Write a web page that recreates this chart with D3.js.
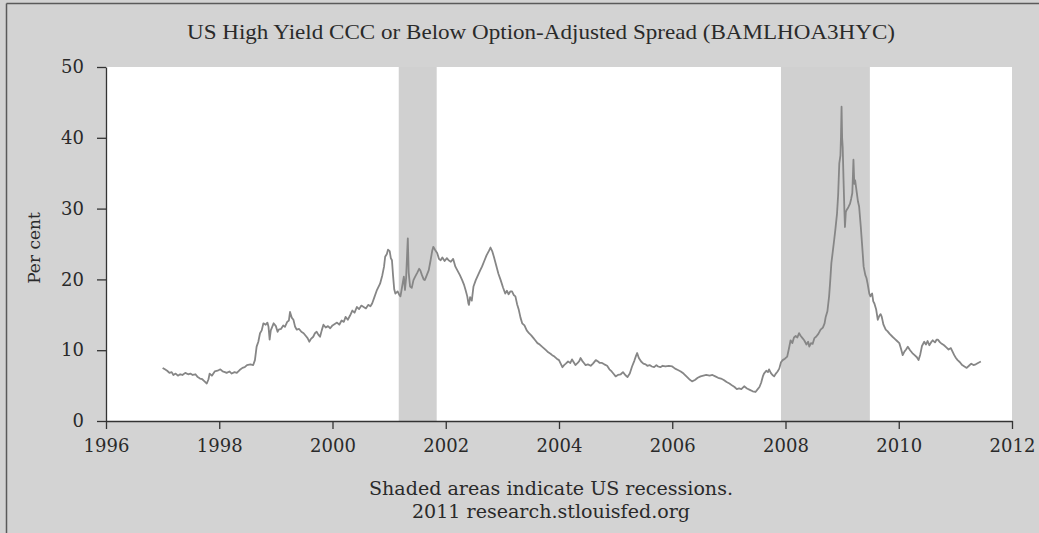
<!DOCTYPE html>
<html>
<head>
<meta charset="utf-8">
<script src="https://cdn.jsdelivr.net/npm/d3@7"></script>
<style>
  html, body { margin: 0; padding: 0; background: #d3d3d3; }
  svg { display: block; }
</style>
</head>
<body>
<svg id="chart" width="1039" height="533"></svg>
<script>
// ---- Data ----
const title = "US High Yield CCC or Below Option-Adjusted Spread (BAMLHOA3HYC)";
const yLabel = "Per cent";
const notes = ["Shaded areas indicate US recessions.", "2011 research.stlouisfed.org"];
const xTicks = [1996, 1998, 2000, 2002, 2004, 2006, 2008, 2010, 2012];
const yTicks = [0, 10, 20, 30, 40, 50];
const recessionStart = [2001.17, 2007.92];
const recessionEnd = [2001.84, 2009.49];

const years = [
1997.00,1997.04,1997.08,1997.12,1997.16,1997.19,1997.23,1997.27,1997.31,1997.35,1997.40,1997.45,1997.49,1997.53,1997.58,1997.62,1997.66,1997.70,1997.74,1997.78,1997.81,1997.83,1997.87,1997.92,1997.97,
1998.02,1998.06,1998.10,1998.13,1998.18,1998.22,1998.27,1998.31,1998.36,1998.41,1998.45,1998.49,1998.55,1998.60,1998.63,1998.66,1998.69,1998.72,1998.75,1998.78,1998.82,1998.85,1998.87,1998.89,1998.91,1998.93,1998.96,
1999.00,1999.03,1999.05,1999.09,1999.13,1999.16,1999.20,1999.23,1999.25,1999.28,1999.31,1999.34,1999.37,1999.41,1999.45,1999.49,1999.53,1999.56,1999.59,1999.62,1999.66,1999.69,1999.72,1999.75,1999.78,1999.81,1999.84,1999.88,1999.92,1999.96,
2000.00,2000.04,2000.08,2000.12,2000.16,2000.20,2000.23,2000.27,2000.31,2000.35,2000.39,2000.43,2000.47,2000.51,2000.55,2000.59,2000.63,2000.67,2000.70,2000.74,2000.78,2000.81,2000.84,2000.88,2000.91,2000.93,2000.96,2000.98,
2001.01,2001.03,2001.05,2001.07,2001.09,2001.11,2001.15,2001.18,2001.20,2001.23,2001.26,2001.28,2001.30,2001.32,2001.33,2001.345,2001.37,2001.40,2001.43,2001.46,2001.50,2001.53,2001.55,2001.58,2001.61,2001.63,2001.66,2001.70,2001.73,2001.76,2001.78,2001.81,2001.85,2001.88,2001.91,2001.94,2001.98,
2002.02,2002.05,2002.09,2002.13,2002.17,2002.21,2002.25,2002.29,2002.32,2002.35,2002.38,2002.40,2002.41,2002.43,2002.46,2002.49,2002.53,2002.57,2002.61,2002.64,2002.68,2002.72,2002.76,2002.79,2002.82,2002.85,2002.89,2002.93,2002.97,
2003.01,2003.05,2003.08,2003.11,2003.14,2003.17,2003.20,2003.23,2003.26,2003.29,2003.32,2003.35,2003.39,2003.43,2003.47,2003.51,2003.55,2003.58,2003.62,2003.66,2003.70,2003.73,2003.77,2003.81,2003.85,2003.88,2003.92,2003.96,
2004.00,2004.03,2004.06,2004.09,2004.12,2004.16,2004.20,2004.23,2004.26,2004.29,2004.33,2004.36,2004.38,2004.41,2004.44,2004.47,2004.51,2004.56,2004.60,2004.65,2004.69,2004.72,2004.76,2004.80,2004.85,2004.89,2004.93,2004.97,
2005.00,2005.04,2005.09,2005.13,2005.17,2005.21,2005.25,2005.29,2005.33,2005.36,2005.38,2005.41,2005.45,2005.49,2005.53,2005.56,2005.60,2005.64,2005.68,2005.72,2005.75,2005.79,2005.83,2005.88,2005.94,
2006.00,2006.05,2006.10,2006.15,2006.20,2006.25,2006.30,2006.35,2006.40,2006.45,2006.50,2006.55,2006.60,2006.66,2006.71,2006.76,2006.81,2006.86,2006.91,2006.96,
2007.01,2007.06,2007.10,2007.14,2007.18,2007.22,2007.27,2007.32,2007.37,2007.42,2007.47,2007.51,2007.54,2007.57,2007.60,2007.62,2007.66,2007.69,2007.71,2007.74,2007.77,2007.80,2007.83,2007.86,2007.89,2007.92,2007.95,2007.99,
2008.03,2008.06,2008.09,2008.12,2008.15,2008.18,2008.21,2008.24,2008.27,2008.30,2008.33,2008.37,2008.40,2008.42,2008.45,2008.48,2008.51,2008.54,2008.58,2008.62,2008.66,2008.69,2008.71,2008.74,2008.77,2008.79,2008.81,2008.83,2008.86,2008.88,2008.91,2008.93,2008.95,2008.97,2008.98,2008.99,
2009.00,2009.01,2009.025,2009.04,2009.05,2009.065,2009.08,2009.11,2009.14,2009.16,2009.18,2009.19,2009.20,2009.215,2009.23,2009.26,2009.28,2009.30,2009.33,2009.35,2009.38,2009.41,2009.43,2009.45,2009.48,2009.50,2009.53,2009.55,2009.57,2009.60,2009.63,2009.66,2009.68,2009.70,2009.73,2009.77,2009.80,2009.84,2009.89,2009.93,2009.97,
2010.01,2010.04,2010.07,2010.10,2010.13,2010.16,2010.20,2010.24,2010.28,2010.32,2010.35,2010.38,2010.41,2010.45,2010.48,2010.51,2010.54,2010.57,2010.60,2010.64,2010.67,2010.69,2010.73,2010.76,2010.80,2010.84,2010.88,2010.92,2010.95,2010.98,
2011.01,2011.04,2011.08,2011.12,2011.16,2011.20,2011.24,2011.28,2011.32,2011.36,2011.40,2011.45
];

const spread = [
7.5,7.3,7.1,6.8,6.9,6.5,6.7,6.4,6.6,6.5,6.8,6.6,6.7,6.5,6.6,6.2,6.0,5.9,5.6,5.3,5.9,6.7,6.4,7.0,7.1,
7.3,7.0,6.9,6.8,7.0,6.7,6.9,6.8,7.2,7.5,7.6,7.9,8.0,7.9,8.6,10.5,11.2,12.4,12.8,13.8,13.6,13.9,13.3,11.5,12.8,13.2,13.8,
13.4,12.6,12.9,13.0,13.5,13.3,14.0,14.2,15.4,14.6,14.3,13.3,12.9,13.0,12.6,12.4,12.0,11.7,11.2,11.6,11.9,12.4,12.6,12.2,11.9,12.8,13.6,13.2,13.4,13.1,
13.5,13.7,13.9,13.6,14.2,14.0,14.7,14.3,14.9,15.6,15.3,16.1,15.8,16.3,16.1,15.9,16.4,16.2,16.6,17.5,18.4,18.9,19.4,20.6,21.8,23.2,23.6,24.2,
24.0,23.0,22.7,20.5,18.6,18.0,18.3,17.8,17.6,19.0,20.4,18.5,20.2,24.0,25.8,21.0,19.0,18.8,19.9,20.4,21.0,21.5,21.3,20.6,20.0,19.9,20.5,21.3,22.6,24.0,24.6,24.2,23.7,22.9,22.7,23.1,22.6,
23.0,22.7,22.5,22.9,21.8,21.2,20.6,19.9,19.3,18.5,17.6,16.6,16.4,17.5,17.0,19.0,19.9,20.6,21.3,21.8,22.6,23.4,24.0,24.5,24.0,23.2,22.0,20.8,19.9,
18.9,18.0,18.4,17.9,18.3,18.3,17.8,17.6,16.5,15.7,14.6,13.8,13.5,12.8,12.4,12.1,11.7,11.4,11.0,10.8,10.5,10.3,10.0,9.7,9.5,9.3,9.1,8.8,
8.6,8.1,7.6,7.9,8.1,8.4,8.2,8.7,8.3,7.9,8.2,8.5,8.9,8.5,8.2,7.9,8.0,7.8,8.1,8.6,8.4,8.2,8.2,8.0,7.8,7.3,7.0,6.6,
6.3,6.5,6.6,6.9,6.5,6.2,6.7,7.7,8.5,9.2,9.6,8.9,8.4,8.1,8.0,7.8,7.9,7.7,7.6,7.9,7.7,7.6,7.8,7.7,7.8,
7.7,7.4,7.2,7.0,6.7,6.3,5.9,5.6,5.8,6.1,6.3,6.4,6.5,6.4,6.5,6.3,6.1,6.0,5.8,5.5,
5.3,5.0,4.8,4.5,4.6,4.5,4.9,4.6,4.4,4.2,4.1,4.5,4.8,5.4,6.3,6.7,7.1,6.9,7.3,6.8,6.5,6.3,6.7,7.0,7.4,8.3,8.6,8.8,
9.1,10.2,11.4,11.0,11.8,12.0,11.8,12.4,12.0,11.7,11.4,10.8,11.2,10.5,11.0,10.9,11.7,11.9,12.3,12.9,13.2,13.8,14.7,15.5,17.6,19.8,22.3,23.6,25.6,27.0,29.3,32.0,36.4,37.5,40.2,44.4,
40.0,38.7,34.0,29.8,27.4,29.5,29.8,30.2,30.7,31.4,32.2,34.5,36.9,33.5,34.0,32.2,31.0,30.3,27.4,25.2,21.8,20.6,20.2,19.4,18.0,17.6,18.0,16.9,16.6,15.8,14.3,14.9,15.1,14.7,13.6,12.9,12.7,12.3,11.9,11.6,11.3,
11.0,10.2,9.3,9.8,10.1,10.5,10.0,9.6,9.3,9.0,8.6,9.4,10.6,11.2,10.8,11.3,10.7,11.1,11.4,11.1,11.5,11.5,11.1,10.9,10.7,10.4,10.1,10.3,9.8,9.3,
8.9,8.6,8.3,7.9,7.7,7.5,7.8,8.1,7.9,8.0,8.2,8.4
];

// ---- Layout ----
const W = 1039, H = 533;
const plot = { left: 106, right: 1012, top: 67, bottom: 421 };
const colors = { bg: "#d3d3d3", plot: "#ffffff", recession: "#d0d0d0", line: "#868686", axis: "#333333", text: "#2a2a2a", border: "#5a5a5a" };

const svg = d3.select("#chart");

svg.append("rect").attr("x", 0).attr("y", 0).attr("width", W).attr("height", H).attr("fill", colors.bg);
// frame lines (top, left)
svg.append("line").attr("x1", 6.5).attr("x2", W).attr("y1", 3.5).attr("y2", 3.5).attr("stroke", colors.border).attr("stroke-width", 1.5);
svg.append("line").attr("x1", 6.5).attr("x2", 6.5).attr("y1", 3.5).attr("y2", H).attr("stroke", colors.border).attr("stroke-width", 1.5);

const x = d3.scaleLinear().domain([1996, 2012]).range([plot.left, plot.right]);
const y = d3.scaleLinear().domain([0, 50]).range([plot.bottom, plot.top]);

// plot background
svg.append("rect").attr("x", plot.left).attr("y", plot.top)
  .attr("width", plot.right - plot.left).attr("height", plot.bottom - plot.top)
  .attr("fill", colors.plot);

// recessions
svg.append("g").selectAll("rect").data(recessionStart).join("rect")
  .attr("x", (d) => x(d))
  .attr("width", (d, i) => x(recessionEnd[i]) - x(d))
  .attr("y", plot.top).attr("height", plot.bottom - plot.top)
  .attr("fill", colors.recession);

// line
const data = years.map((t, i) => [t, spread[i]]);
svg.append("path").datum(data)
  .attr("fill", "none").attr("stroke", colors.line).attr("stroke-width", 1.8)
  .attr("stroke-linejoin", "round")
  .attr("d", d3.line().x((d) => x(d[0])).y((d) => y(d[1])));

// axes
const fontTick = "'DejaVu Serif', serif";
const xAxis = svg.append("g").attr("transform", `translate(0,${plot.bottom})`)
  .call(d3.axisBottom(x).tickValues(xTicks).tickFormat(d3.format("d")).tickSize(8).tickSizeOuter(0).tickPadding(10));
const yAxis = svg.append("g").attr("transform", `translate(${plot.left},0)`)
  .call(d3.axisLeft(y).tickValues(yTicks).tickSize(9).tickSizeOuter(0).tickPadding(13));
[xAxis, yAxis].forEach((g) => {
  g.select(".domain").attr("stroke", colors.axis).attr("stroke-width", 1.3);
  g.selectAll(".tick line").attr("stroke", colors.axis).attr("stroke-width", 1.3);
  g.selectAll(".tick text").attr("fill", colors.text).style("font-family", fontTick).style("font-size", "18px");
});

// title
svg.append("text").attr("x", 541).attr("y", 39).attr("text-anchor", "middle")
  .attr("fill", colors.text)
  .style("font-family", "'Liberation Serif', serif").style("font-size", "21px")
  .attr("textLength", 708).attr("lengthAdjust", "spacingAndGlyphs")
  .text(title);

// y label
svg.append("text").attr("transform", "translate(40,248) rotate(-90)").attr("text-anchor", "middle")
  .attr("fill", colors.text).style("font-family", fontTick).style("font-size", "17px")
  .text(yLabel);

// notes
const noteWidths = [364, 278];
svg.append("g").selectAll("text").data(notes).join("text")
  .attr("x", 551).attr("y", (d, i) => 495 + i * 23).attr("text-anchor", "middle")
  .attr("fill", colors.text).style("font-family", fontTick).style("font-size", "18.5px")
  .attr("textLength", (d, i) => noteWidths[i]).attr("lengthAdjust", "spacingAndGlyphs")
  .text((d) => d);
</script>
</body>
</html>
